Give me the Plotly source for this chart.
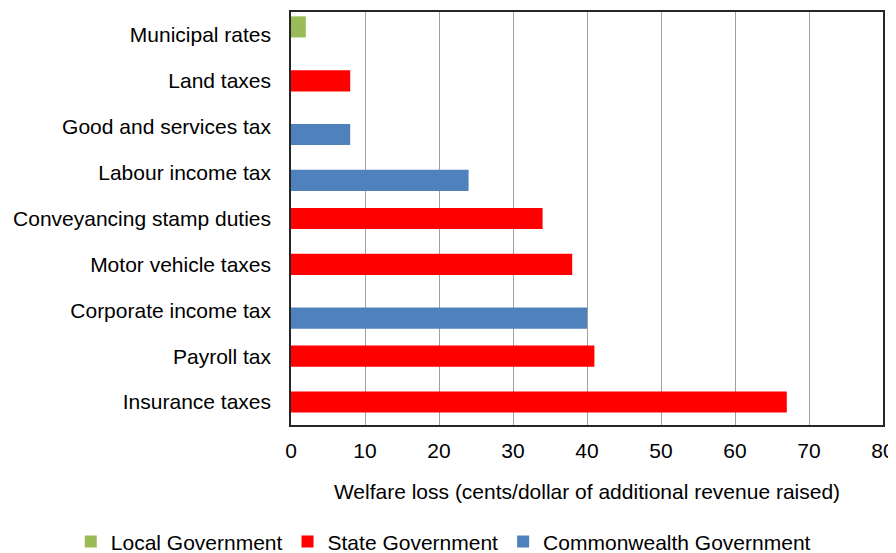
import plotly.graph_objects as go

categories = ["Municipal rates", "Land taxes", "Good and services tax", "Labour income tax",
              "Conveyancing stamp duties", "Motor vehicle taxes", "Corporate income tax",
              "Payroll tax", "Insurance taxes"]

local_cats = ["Municipal rates"]
local_vals = [2]

state_cats = ["Land taxes", "Conveyancing stamp duties", "Motor vehicle taxes", "Payroll tax", "Insurance taxes"]
state_vals = [8, 34, 38, 41, 67]

cw_cats = ["Good and services tax", "Labour income tax", "Corporate income tax"]
cw_vals = [8, 24, 40]

series = [
    ("Local Government", local_cats, local_vals, "#9BBB59", -0.175),
    ("State Government", state_cats, state_vals, "#FF0000", 0.0),
    ("Commonwealth Government", cw_cats, cw_vals, "#4F81BD", 0.17),
]

bw = 0.46
fig = go.Figure()
for name, cats, vals, col, shift in series:
    fig.add_trace(go.Bar(
        name=name, y=cats, x=vals, orientation="h",
        marker=dict(color=col, line=dict(width=0)),
        width=bw, offset=shift - bw / 2,
    ))

font = "Liberation Sans, Arial, sans-serif"
fs = 21
fig.update_layout(
    width=888, height=545,
    margin=dict(l=283, r=13, t=4, b=128, autoexpand=False),
    paper_bgcolor="white", plot_bgcolor="white",
    barmode="overlay",
    font=dict(family=font, size=fs, color="black"),
    showlegend=True,
    legend=dict(orientation="h", xref="paper", yref="paper",
                x=-0.372, xanchor="left", y=-0.283, yanchor="middle",
                font=dict(size=fs), itemwidth=30, traceorder="normal"),
    xaxis=dict(range=[0, 80], dtick=10, tick0=0, showgrid=True, gridcolor="#A0A0A0", gridwidth=1,
               showline=True, linecolor="#262626", linewidth=1.5, mirror=True,
               ticks="", zeroline=False, tickfont=dict(size=fs), automargin=True,
               ticklabelstandoff=6,
               title=dict(text="Welfare loss (cents/dollar of additional revenue raised)",
                          font=dict(size=fs), standoff=23)),
    yaxis=dict(categoryorder="array", categoryarray=categories, autorange="reversed",
               showline=True, linecolor="#262626", linewidth=1.5, mirror=True,
               ticks="", showgrid=False, tickfont=dict(size=fs), ticklabelstandoff=14,
               automargin=False),
)

fig.write_html("out.html")
